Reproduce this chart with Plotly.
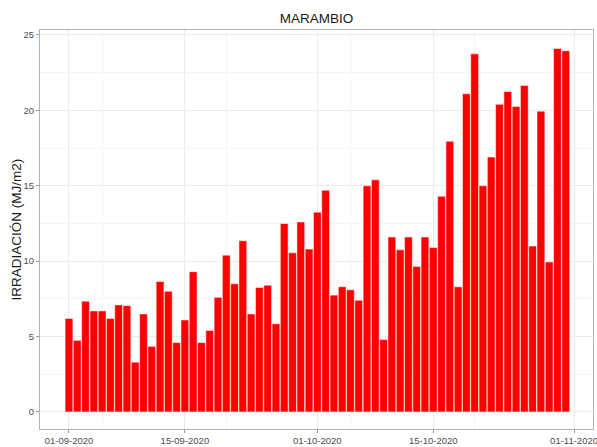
import pandas as pd
import plotly.graph_objects as go

dates = pd.date_range("2020-09-01", "2020-10-31", freq="D")
irradiacion = [
    6.2, 4.75, 7.35, 6.7, 6.7, 6.2, 7.1, 7.05, 3.3, 6.5,
    4.35, 8.65, 8.0, 4.6, 6.1, 9.3, 4.6, 5.4, 7.6, 10.4,
    8.5, 11.35, 6.5, 8.25, 8.4, 5.85, 12.5, 10.55, 12.6, 10.8,
    13.25, 14.7, 7.75, 8.3, 8.1, 7.4, 15.0, 15.4, 4.8, 11.6,
    10.75, 11.6, 9.65, 11.6, 10.9, 14.3, 17.95, 8.3, 21.1, 23.75,
    15.0, 16.9, 20.4, 21.25, 20.25, 21.65, 11.0, 19.95, 9.95, 24.1,
    23.95,
]
tick_dates = ["2020-09-01", "2020-09-15", "2020-10-01", "2020-10-15", "2020-11-01"]
tick_labels = ["01-09-2020", "15-09-2020", "01-10-2020", "15-10-2020", "01-11-2020"]
minor_dates = ["2020-09-05", "2020-09-20", "2020-10-05", "2020-10-20"]

FONT = "Liberation Sans, Arial, sans-serif"

fig = go.Figure(
    go.Bar(
        x=dates,
        y=irradiacion,
        width=86400000 * 0.94,
        marker=dict(color="#FF0000", line=dict(color="white", width=0.5)),
        hoverinfo="x+y",
    )
)

fig.update_layout(
    width=597,
    height=447,
    margin=dict(l=40, r=4, t=30, b=18),
    paper_bgcolor="white",
    plot_bgcolor="white",
    font=dict(family=FONT, color="#4D4D4D", size=9.5),
    showlegend=False,
    title=dict(
        text="MARAMBIO",
        x=(316.5 / 597),
        xanchor="center",
        y=1 - 18 / 447,
        yanchor="middle",
        font=dict(family=FONT, size=13.5, color="#1A1A1A"),
    ),
    annotations=[
        dict(
            text="IRRADIACIÓN (MJ/m2)",
            xref="paper",
            yref="paper",
            x=(16 - 40) / 553,
            y=0.5,
            xanchor="center",
            yanchor="middle",
            textangle=-90,
            showarrow=False,
            font=dict(family=FONT, size=13.5, color="#1A1A1A"),
        )
    ],
)

fig.update_xaxes(
    type="date",
    range=["2020-08-28 12:00", "2020-11-03 07:00"],
    tickmode="array",
    tickvals=tick_dates,
    ticktext=tick_labels,
    ticks="outside",
    ticklen=3,
    tickcolor="#999999",
    showgrid=True,
    gridcolor="#EBEBEB",
    gridwidth=1,
    minor=dict(tickmode="array", tickvals=minor_dates, showgrid=True, gridcolor="#F5F5F5", gridwidth=1),
    showline=True,
    linecolor="#B3B3B3",
    linewidth=1,
    mirror=True,
    zeroline=False,
    automargin=False,
    ticklabeloverflow="allow",
    tickfont=dict(size=9.5, color="#4D4D4D"),
)

fig.update_yaxes(
    range=[-1.13, 25.33],
    tickmode="linear",
    tick0=0,
    dtick=5,
    ticks="outside",
    ticklen=3,
    tickcolor="#999999",
    showgrid=True,
    gridcolor="#EBEBEB",
    gridwidth=1,
    minor=dict(dtick=2.5, tick0=0, showgrid=True, gridcolor="#F5F5F5", gridwidth=1),
    showline=True,
    linecolor="#B3B3B3",
    linewidth=1,
    mirror=True,
    zeroline=False,
    automargin=False,
    tickfont=dict(size=9.5, color="#4D4D4D"),
)

fig.write_html(
    "out.html",
    config={"displayModeBar": False},
    post_script="document.body.style.margin='0';document.body.style.padding='0';",
)
